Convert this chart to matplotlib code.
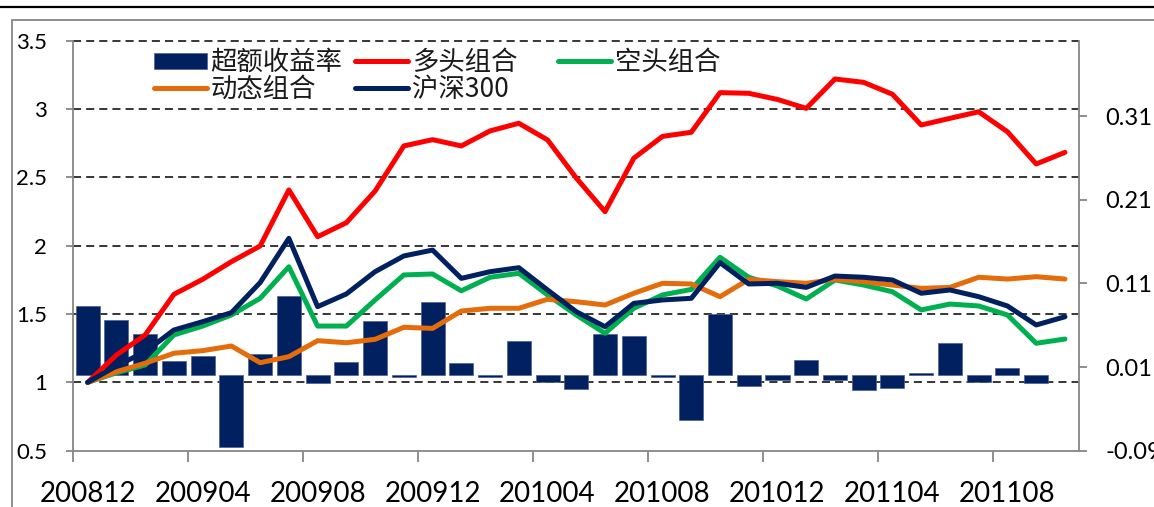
import numpy as np
import matplotlib
matplotlib.use("Agg")
import matplotlib.pyplot as plt
from matplotlib.lines import Line2D
from matplotlib.patches import Rectangle
from matplotlib.transforms import blended_transform_factory
from matplotlib.font_manager import FontProperties

# ---------------- data ----------------
months = ["200812", "200901", "200902", "200903", "200904", "200905", "200906",
          "200907", "200908", "200909", "200910", "200911", "200912", "201001",
          "201002", "201003", "201004", "201005", "201006", "201007", "201008",
          "201009", "201010", "201011", "201012", "201101", "201102", "201103",
          "201104", "201105", "201106", "201107", "201108", "201109", "201110"]

excess = [0.083, 0.066, 0.050, 0.017, 0.0235, -0.086, 0.0256, 0.0945, -0.0094,
          0.0164, 0.0647, -0.002, 0.0874, 0.0152, -0.002, 0.0407, -0.0083,
          -0.0166, 0.049, 0.0475, -0.002, -0.053, 0.073, -0.013, -0.005,
          0.0184, -0.005, -0.0178, -0.0155, 0.003, 0.039, -0.008, 0.0085,
          -0.009, np.nan]

long_pf = [1.0, 1.20, 1.347, 1.644, 1.754, 1.883, 1.998, 2.408, 2.066, 2.168,
           2.40, 2.73, 2.776, 2.73, 2.84, 2.896, 2.774, 2.495, 2.249, 2.64,
           2.80, 2.83, 3.12, 3.115, 3.07, 3.005, 3.22, 3.195, 3.108, 2.883,
           2.932, 2.98, 2.834, 2.598, 2.683]

short_pf = [1.0, 1.07, 1.127, 1.347, 1.412, 1.493, 1.615, 1.846, 1.412, 1.412,
            1.603, 1.786, 1.793, 1.67, 1.769, 1.798, 1.64, 1.493, 1.359, 1.542,
            1.64, 1.68, 1.915, 1.769, 1.705, 1.61, 1.749, 1.712, 1.663, 1.53,
            1.573, 1.559, 1.493, 1.286, 1.317]

dynamic_pf = [1.0, 1.078, 1.14, 1.213, 1.232, 1.266, 1.144, 1.188, 1.305, 1.29,
              1.315, 1.403, 1.395, 1.522, 1.542, 1.542, 1.608, 1.59, 1.566,
              1.652, 1.725, 1.72, 1.627, 1.754, 1.737, 1.725, 1.754, 1.737,
              1.712, 1.688, 1.695, 1.769, 1.756, 1.773, 1.756]

hs300 = [1.0, 1.12, 1.224, 1.383, 1.444, 1.51, 1.73, 2.054, 1.554, 1.647,
         1.81, 1.925, 1.968, 1.761, 1.81, 1.839, 1.676, 1.517, 1.407, 1.578,
         1.603, 1.615, 1.876, 1.72, 1.725, 1.695, 1.778, 1.769, 1.749, 1.652,
         1.676, 1.627, 1.559, 1.42, 1.48]

left_ticks = [0.5, 1.0, 1.5, 2.0, 2.5, 3.0, 3.5]
left_labels = ["0.5", "1", "1.5", "2", "2.5", "3", "3.5"]
right_ticks = [-0.09, 0.01, 0.11, 0.21, 0.31]
right_labels = ["-0.09", "0.01", "0.11", "0.21", "0.31"]
label_every = 4

# ---------------- figure ----------------
W, H = 1154, 507
fig = plt.figure(figsize=(W / 100, H / 100), dpi=100)

def fx(px):
    return px / W

def fy(py):
    return 1 - py / H

GRAY = "#868686"
rect = [fx(73.3), fy(450.7), fx(1079.3) - fx(73.3), fy(40.7) - fy(450.7)]
ax = fig.add_axes(rect)
axb = ax.twinx()
ax.set_zorder(axb.get_zorder() + 1)
ax.patch.set_visible(False)

x = np.arange(len(months))

# bars on secondary (right) axis
bars = axb.bar(x, excess, width=0.835, color="#002060", edgecolor="#4d5f94",
               linewidth=0.5, zorder=2)
axb.set_ylim(-0.09, 0.40)

# gridlines (left-axis values), drawn beneath the bars
tr = blended_transform_factory(axb.transAxes, ax.transData)
for gv in left_ticks[1:]:
    axb.plot([0, 1], [gv, gv], transform=tr, color="black", lw=1.1,
             linestyle=(0, (5.3, 3.3)), zorder=0.5, clip_on=False)

# lines on primary (left) axis
lw = 3.6
kw = dict(lw=lw, solid_capstyle="round", solid_joinstyle="round")
l_red, = ax.plot(x, long_pf, color="#FF0000", **kw)
l_green, = ax.plot(x, short_pf, color="#00B050", **kw)
l_orange, = ax.plot(x, dynamic_pf, color="#E46C0A", **kw)
l_navy, = ax.plot(x, hs300, color="#002060", **kw)

ax.set_ylim(0.5, 3.5)
ax.set_xlim(-0.5, len(months) - 0.5)

# spines
for s in ["top", "right"]:
    ax.spines[s].set_visible(False)
for s in ["left", "bottom"]:
    ax.spines[s].set_color(GRAY)
    ax.spines[s].set_linewidth(1.3)
for s in ["top", "left", "bottom"]:
    axb.spines[s].set_visible(False)
axb.spines["right"].set_color(GRAY)
axb.spines["right"].set_linewidth(1.3)

tick_font = "Lato"
# x ticks: marks at category boundaries, labels at categories
ax.set_xticks(np.arange(-0.5, len(months) - 0.5, label_every))
ax.set_xticklabels([])
lab_pos = x[::label_every]
ax.set_xticks(lab_pos, [months[i] for i in lab_pos], minor=True)
ax.tick_params(axis="x", which="major", length=8, width=1.3, color=GRAY,
               direction="out")
ax.tick_params(axis="x", which="minor", length=0, pad=22, labelsize=20,
               labelcolor="black")
for t in ax.get_xticklabels(minor=True):
    t.set_fontfamily(tick_font)

ax.set_yticks(left_ticks, left_labels)
ax.tick_params(axis="y", length=5, width=1.3, color=GRAY, direction="out",
               pad=14, labelsize=16, labelcolor="black")
for t in ax.get_yticklabels():
    t.set_fontfamily(tick_font)

axb.set_yticks(right_ticks, right_labels)
axb.tick_params(axis="y", length=6, width=1.3, color=GRAY, direction="out",
                pad=13, labelsize=17, labelcolor="black")
for t in axb.get_yticklabels():
    t.set_fontfamily(tick_font)

# legend: three columns laid out like the original
prop = FontProperties(family=["Noto Sans CJK SC", "DejaVu Sans"], size=19)
legkw = dict(loc="upper left", frameon=False, prop=prop, borderpad=0,
             borderaxespad=0, handlelength=2.0, handleheight=0.56,
             handletextpad=0.15, labelspacing=0.0, labelcolor="#1a1a1a")
ytop = 49
fig.legend([bars, l_orange], ["超额收益率", "动态组合"],
           bbox_to_anchor=(fx(154), fy(ytop)), **legkw)
fig.legend([l_red, l_navy], ["多头组合", "沪深300"],
           bbox_to_anchor=(fx(355), fy(ytop)), **legkw)
fig.legend([l_green], ["空头组合"],
           bbox_to_anchor=(fx(558), fy(ytop)), **legkw)

# outer frame decorations
fig.add_artist(Line2D([0, 1], [fy(6.7), fy(6.7)], color="black", lw=1.6))
fig.add_artist(Rectangle((fx(11.7), -0.2), 1.2, fy(20) + 0.2, fill=False,
                         edgecolor=GRAY, lw=1.3))

fig.savefig("out.png", dpi=100)
